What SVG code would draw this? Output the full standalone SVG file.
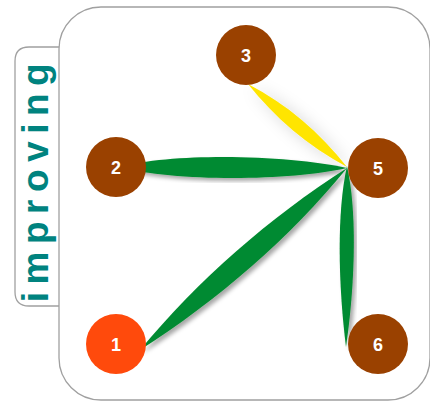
<svg xmlns="http://www.w3.org/2000/svg" width="430" height="403" viewBox="0 0 430 403">
  <defs>
    <filter id="edgeShadow" x="-20%" y="-20%" width="140%" height="140%">
      <feDropShadow dx="3" dy="3" stdDeviation="2" flood-color="#000" flood-opacity="0.35"/>
    </filter>
    <filter id="softShadow" x="-50%" y="-50%" width="200%" height="200%">
      <feDropShadow dx="4" dy="3" stdDeviation="8" flood-color="#000" flood-opacity="0.16"/>
    </filter>
    <style>
      .frame { fill: #fff; stroke: #a0a0a0; stroke-width: 1.3; }
      .node { fill: #9a4100; }
      .node.start { fill: #ff4a0c; }
      .label { fill: #fff; font-family: "Liberation Sans", Arial, sans-serif; font-weight: bold; font-size: 18px; text-anchor: middle; }
      .title { fill: #00837f; font-family: "Liberation Sans", Arial, sans-serif; font-weight: bold; font-size: 37px; letter-spacing: 7.5px; text-anchor: middle; }
      .green { fill: #008a30; filter: url(#edgeShadow); }
      .yellow { fill: #ffe500; filter: url(#softShadow); }
    </style>
  </defs>

  <!-- side tab with the vertical caption -->
  <g id="tab">
    <path class="frame" d="M59,47 H29 Q15,47 15,61 V292 Q15,306 29,306 H59"/>
    <text class="title" transform="translate(48,179) rotate(-90)">improving</text>
  </g>

  <!-- main panel -->
  <rect id="panel" class="frame" x="59" y="7" width="371" height="393" rx="42" ry="42"/>

  <!-- tapered connectors, all meeting at node 5 -->
  <g id="connectors">
    <path class="yellow" d="M248,84 C275,118 308,146 347,167 C320,133 287,104 248,84 Z"/>
    <path class="green" d="M118,167 C175,182 290,181 347,168 C290,155 175,152 118,167 Z"/>
    <path class="green" d="M140,350 C198,280 269,218 347,168 C290,238 218,300 140,350 Z"/>
    <path class="green" d="M347,166 C359,220 353,300 346,347 C340,300 335,220 347,166 Z"/>
  </g>

  <g id="node-3">
    <circle class="node" cx="246" cy="55" r="30"/>
    <text class="label" x="246" y="62">3</text>
  </g>
  <g id="node-2">
    <circle class="node" cx="116" cy="167" r="30"/>
    <text class="label" x="116" y="174">2</text>
  </g>
  <g id="node-5">
    <circle class="node" cx="378" cy="168" r="30"/>
    <text class="label" x="378" y="175">5</text>
  </g>
  <g id="node-1">
    <circle class="node start" cx="116" cy="344" r="30"/>
    <text class="label" x="116" y="351">1</text>
  </g>
  <g id="node-6">
    <circle class="node" cx="378" cy="344" r="30"/>
    <text class="label" x="378" y="351">6</text>
  </g>
</svg>
